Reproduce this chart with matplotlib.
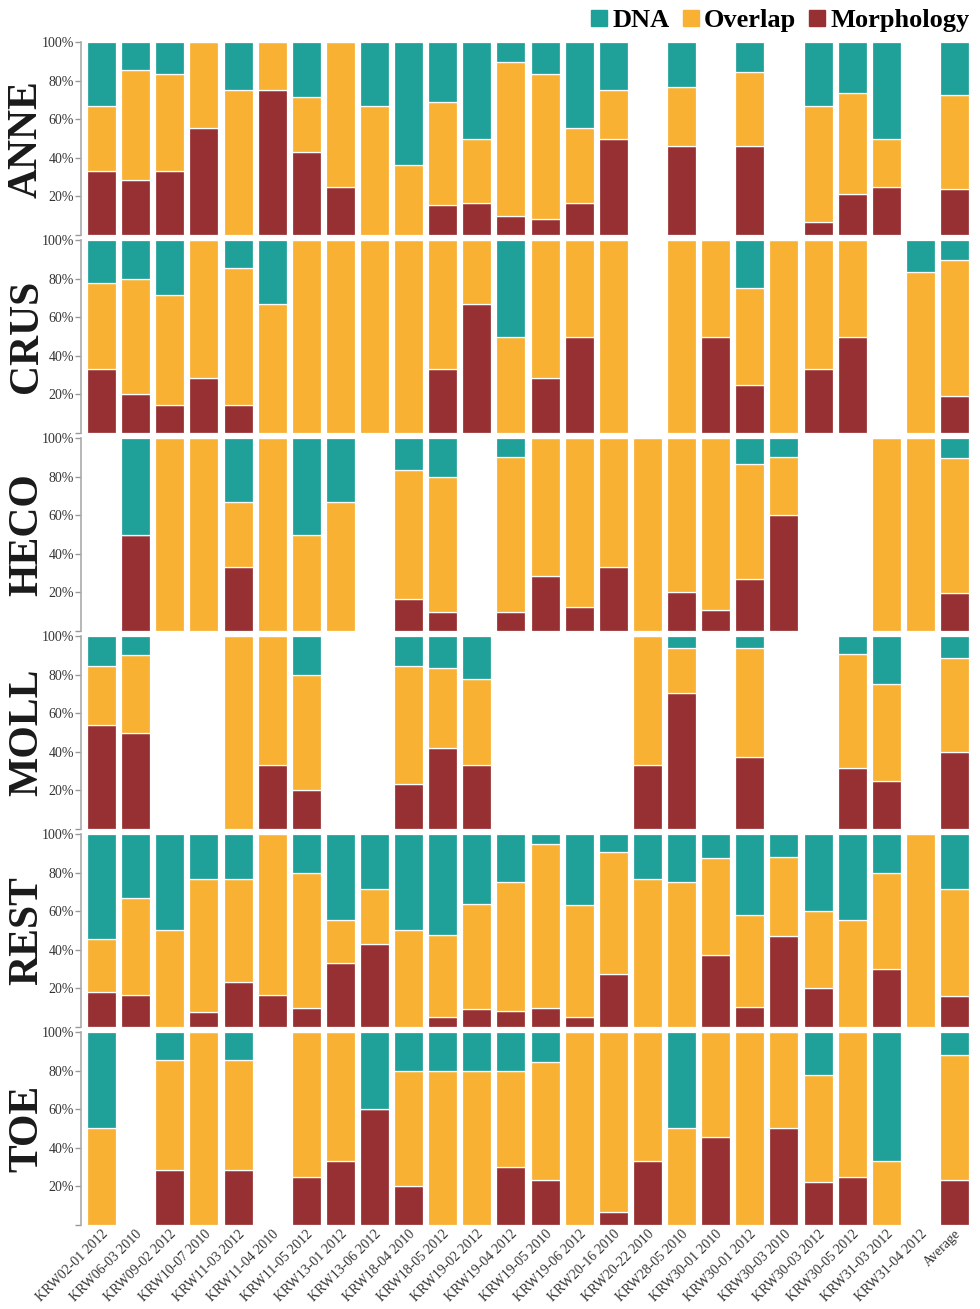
import numpy as np
import matplotlib
matplotlib.use('Agg')
import matplotlib.pyplot as plt
from matplotlib.patches import Patch

plt.rcParams['font.family'] = ['Liberation Serif', 'DejaVu Serif']

samples = ['KRW02-01 2012', 'KRW06-03 2010', 'KRW09-02 2012', 'KRW10-07 2010',
           'KRW11-03 2012', 'KRW11-04 2010', 'KRW11-05 2012', 'KRW13-01 2012',
           'KRW13-06 2012', 'KRW18-04 2010', 'KRW18-05 2012', 'KRW19-02 2012',
           'KRW19-04 2012', 'KRW19-05 2010', 'KRW19-06 2012', 'KRW20-16 2010',
           'KRW20-22 2010', 'KRW28-05 2010', 'KRW30-01 2010', 'KRW30-01 2012',
           'KRW30-03 2010', 'KRW30-03 2012', 'KRW30-05 2012', 'KRW31-03 2012',
           'KRW31-04 2012', 'Average']

groups = ['ANNE', 'CRUS', 'HECO', 'MOLL', 'REST', 'TOE']

# percentages per sample (empty sample = all zero)
anne_morph = [33.3, 28.6, 33.3, 55.6, 0, 75, 42.9, 25, 0, 0, 15.4, 16.7, 10, 8.3, 16.7, 50, 0, 46.2, 0, 46.2, 0, 6.7, 21.1, 25, 0, 23.7]
anne_overlap = [33.4, 57.1, 50, 44.4, 75, 25, 28.6, 75, 66.7, 36.4, 53.8, 33.3, 80, 75, 38.9, 25, 0, 30.7, 0, 38.4, 0, 60, 52.6, 25, 0, 48.7]
anne_dna = [33.3, 14.3, 16.7, 0, 25, 0, 28.5, 0, 33.3, 63.6, 30.8, 50, 10, 16.7, 44.4, 25, 0, 23.1, 0, 15.4, 0, 33.3, 26.3, 50, 0, 27.6]

crus_morph = [33.3, 20, 14.3, 28.6, 14.3, 0, 0, 0, 0, 0, 33.3, 66.7, 0, 28.6, 50, 0, 0, 0, 50, 25, 0, 33.3, 50, 0, 0, 19.4]
crus_overlap = [44.5, 60, 57.1, 71.4, 71.4, 66.7, 100, 100, 100, 100, 66.7, 33.3, 50, 71.4, 50, 100, 0, 100, 50, 50, 100, 66.7, 50, 0, 83.3, 70.6]
crus_dna = [22.2, 20, 28.6, 0, 14.3, 33.3, 0, 0, 0, 0, 0, 0, 50, 0, 0, 0, 0, 0, 0, 25, 0, 0, 0, 0, 16.7, 10]

heco_morph = [0, 50, 0, 0, 33.3, 0, 0, 0, 0, 16.7, 10, 0, 10, 28.6, 12.5, 33.3, 0, 20, 11.1, 26.7, 60, 0, 0, 0, 0, 19.7]
heco_overlap = [0, 0, 100, 100, 33.4, 100, 50, 66.7, 0, 66.6, 70, 0, 80, 71.4, 87.5, 66.7, 100, 80, 88.9, 60, 30, 0, 0, 100, 100, 70]
heco_dna = [0, 50, 0, 0, 33.3, 0, 50, 33.3, 0, 16.7, 20, 0, 10, 0, 0, 0, 0, 0, 0, 13.3, 10, 0, 0, 0, 0, 10.3]

moll_morph = [53.8, 50, 0, 0, 0, 33.3, 20, 0, 0, 23.1, 41.7, 33.3, 0, 0, 0, 0, 33.3, 70.6, 0, 37.5, 0, 0, 31.8, 25, 0, 40.1]
moll_overlap = [30.8, 40, 0, 0, 100, 66.7, 60, 0, 0, 61.5, 41.6, 44.5, 0, 0, 0, 0, 66.7, 23.5, 0, 56.25, 0, 0, 59.1, 50, 0, 48.7]
moll_dna = [15.4, 10, 0, 0, 0, 0, 20, 0, 0, 15.4, 16.7, 22.2, 0, 0, 0, 0, 0, 5.9, 0, 6.25, 0, 0, 9.1, 25, 0, 11.2]

rest_morph = [18.2, 16.7, 0, 7.7, 23.1, 16.7, 10, 33.3, 42.9, 0, 5.3, 9.1, 8.3, 10, 5.3, 27.3, 0, 0, 37.5, 10.5, 47.1, 20, 0, 30, 0, 16.2]
rest_overlap = [27.3, 50, 50, 69.2, 53.8, 83.3, 70, 22.3, 28.5, 50, 42.1, 54.5, 66.7, 85, 57.9, 63.6, 76.9, 75, 50, 47.4, 41.1, 40, 55.6, 50, 100, 55.5]
rest_dna = [54.5, 33.3, 50, 23.1, 23.1, 0, 20, 44.4, 28.6, 50, 52.6, 36.4, 25, 5, 36.8, 9.1, 23.1, 25, 12.5, 42.1, 11.8, 40, 44.4, 20, 0, 28.3]

toe_morph = [0, 0, 28.6, 0, 28.6, 0, 25, 33.3, 60, 20, 0, 0, 30, 23.1, 0, 6.7, 33.3, 0, 45.5, 0, 50, 22.2, 25, 0, 0, 23.2]
toe_overlap = [50, 0, 57.1, 100, 57.1, 0, 75, 66.7, 0, 60, 80, 80, 50, 61.5, 100, 93.3, 66.7, 50, 54.5, 100, 50, 55.6, 75, 33.3, 0, 64.8]
toe_dna = [50, 0, 14.3, 0, 14.3, 0, 0, 0, 40, 20, 20, 20, 20, 15.4, 0, 0, 0, 50, 0, 0, 0, 22.2, 0, 66.7, 0, 12]

morph = [anne_morph, crus_morph, heco_morph, moll_morph, rest_morph, toe_morph]
overlap = [anne_overlap, crus_overlap, heco_overlap, moll_overlap, rest_overlap, toe_overlap]
dna = [anne_dna, crus_dna, heco_dna, moll_dna, rest_dna, toe_dna]

c_dna = '#1fa19a'
c_overlap = '#f8b133'
c_morph = '#973033'

W, H = 980, 1309
fig = plt.figure(figsize=(W / 100, H / 100), dpi=100)

x = np.arange(len(samples))
left_px, right_px = 80.7, 972
top0, pitch, height = 42.3, 197.95, 192.7

for i, g in enumerate(groups):
    top = top0 + pitch * i
    ax = fig.add_axes([left_px / W, 1 - (top + height) / H,
                       (right_px - left_px) / W, height / H])
    m = np.array(morph[i])
    o = np.array(overlap[i])
    d = np.array(dna[i])
    kw = dict(width=0.85, edgecolor='white', linewidth=0.9)
    ax.bar(x, m, color=c_morph, **kw)
    ax.bar(x, o, bottom=m, color=c_overlap, **kw)
    ax.bar(x, d, bottom=m + o, color=c_dna, **kw)

    ax.set_xlim(-0.61, 25.51)
    ax.set_ylim(0, 100)
    ax.set_yticks([0, 20, 40, 60, 80, 100])
    ax.set_yticklabels(['', '20%', '40%', '60%', '80%', '100%'])
    ax.tick_params(axis='y', length=4, width=1, color='#999999',
                   labelsize=10, labelcolor='#333333', pad=1)
    for s in ['top', 'right', 'bottom']:
        ax.spines[s].set_visible(False)
    ax.spines['left'].set_color('#aaaaaa')
    ax.spines['left'].set_linewidth(1.2)
    ax.set_xticks(x)
    if i == len(groups) - 1:
        ax.set_xticklabels(samples, rotation=45, ha='right', va='top',
                           rotation_mode='anchor', fontsize=10, color='#333333')
        ax.tick_params(axis='x', length=0, pad=2)
    else:
        ax.set_xticklabels([])
        ax.tick_params(axis='x', length=0)

    fig.text(27 / W, 1 - (top + height / 2) / H, g, rotation=90,
             ha='center', va='center', fontsize=30, fontweight='bold',
             color='#1a1a1a')

handles = [Patch(color=c_dna), Patch(color=c_overlap), Patch(color=c_morph)]
fig.legend(handles, ['DNA', 'Overlap', 'Morphology'], loc='upper right',
           bbox_to_anchor=(0.995, 0.997), ncol=3, frameon=False,
           prop={'size': 19, 'weight': 'bold'}, handlelength=0.6,
           handleheight=0.6, handletextpad=0.2, columnspacing=0.5,
           borderaxespad=0.1, borderpad=0.1)

fig.savefig('out.png', dpi=100)
